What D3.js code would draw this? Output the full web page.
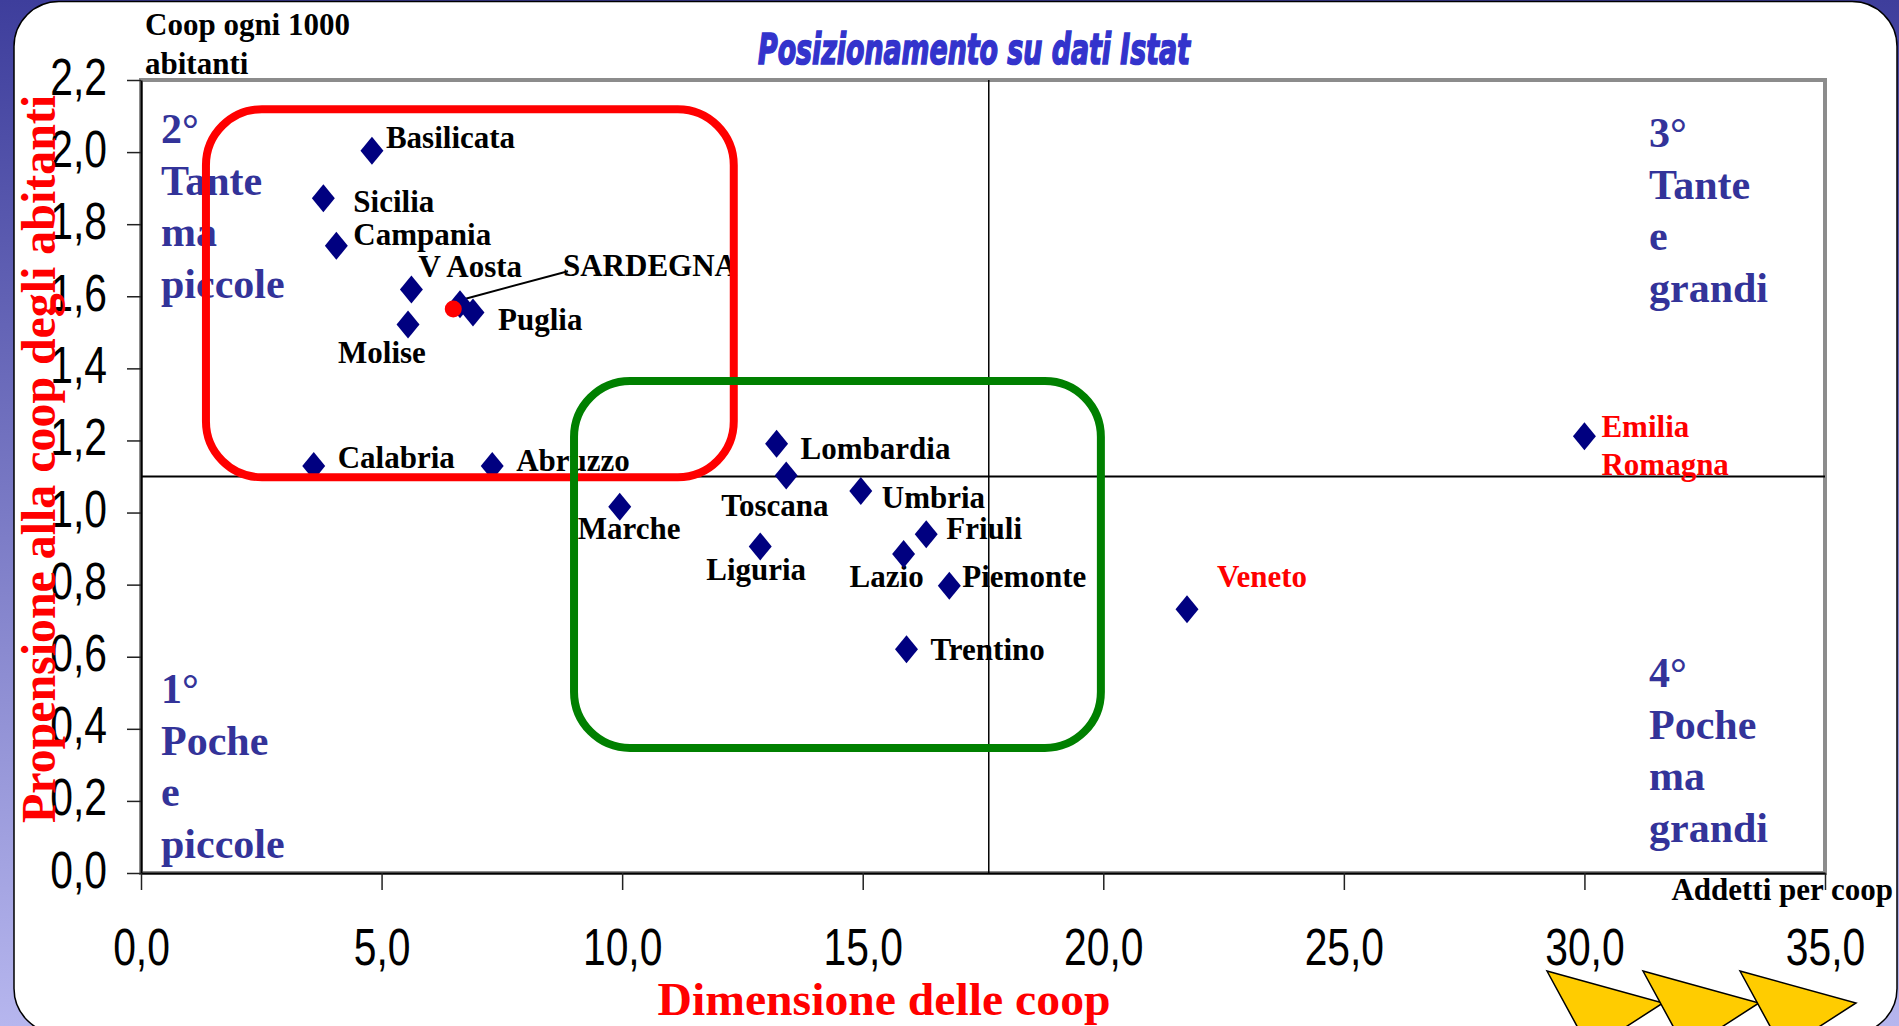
<!DOCTYPE html>
<html>
<head>
<meta charset="utf-8">
<script src="https://cdn.jsdelivr.net/npm/d3@7"></script>
<style>
  body { margin: 0; overflow: hidden; background: #fff; }
</style>
</head>
<body>
<div id="chart"></div>
<script>
// regioni: x = addetti per coop, y = coop ogni 1000 abitanti
var regions = ["Basilicata", "Sicilia", "Campania", "V Aosta", "Molise", "SARDEGNA", "Puglia",
  "Calabria", "Abruzzo", "Marche", "Lombardia", "Toscana", "Umbria", "Liguria", "Friuli",
  "Lazio", "Piemonte", "Trentino", "Veneto", "Emilia\nRomagna"];
var addetti = [4.80, 3.79, 4.06, 5.62, 5.55, 6.63, 6.90,
  3.59, 7.30, 9.95, 13.21, 13.41, 14.96, 12.87, 16.32,
  15.85, 16.80, 15.91, 21.74, 30.0];
var coopPer1000 = [2.004, 1.872, 1.740, 1.619, 1.522, 1.578, 1.555,
  1.129, 1.129, 1.016, 1.191, 1.103, 1.060, 0.906, 0.940,
  0.885, 0.797, 0.621, 0.732, 1.212];
var redLabel = ["Veneto", "Emilia\nRomagna"];
// spostamento delle etichette rispetto al punto (px)
var labelDx = [14, 30, 17, 7, -70, 103, 25, 24, 24, -42, 24, -65, 21, -54, 20, -54, 13, 24, 30, 17];
var labelDy = [-3, 14, -1, -12, 39, -28, 18, 2, 5, 32, 15, 41, 17, 34, 5, 33, 1, 11, -22, 1];

var xTicks = [0, 5, 10, 15, 20, 25, 30, 35];
var yTicks = [0, 0.2, 0.4, 0.6, 0.8, 1.0, 1.2, 1.4, 1.6, 1.8, 2.0, 2.2];
var xMean = 17.62, yMean = 1.10;
var sardegnaDot = [6.49, 1.565];

// riquadri evidenziati (in unità dei dati)
var boxColors = ["#ff0000", "#008000"];
var boxX = [[1.35, 12.32], [9.0, 19.95]];
var boxY = [[1.098, 2.119], [0.347, 1.365]];

var quadrantText = [["2°", "Tante", "ma", "piccole"], ["3°", "Tante", "e", "grandi"],
  ["1°", "Poche", "e", "piccole"], ["4°", "Poche", "ma", "grandi"]];

var W = 1899, H = 1026;
var serif = "'Liberation Serif', 'Times New Roman', serif";
var sans = "'Liberation Sans', Arial, sans-serif";

var svg = d3.select("#chart").append("svg")
  .attr("width", W).attr("height", H);

var defs = svg.append("defs");
var grad = defs.append("linearGradient").attr("id", "bg")
  .attr("x1", 0).attr("y1", 0).attr("x2", 0).attr("y2", 1);
grad.append("stop").attr("offset", "0%").attr("stop-color", "#3e3e9c");
grad.append("stop").attr("offset", "100%").attr("stop-color", "#b6b6ee");

svg.append("rect").attr("width", W).attr("height", H).attr("fill", "url(#bg)");
svg.append("rect").attr("x", 14).attr("y", 1.5).attr("width", 1883).attr("height", 1032)
  .attr("rx", 45).attr("fill", "#fff").attr("stroke", "#000").attr("stroke-width", 1.5);

var x = d3.scaleLinear().domain([0, 35]).range([141, 1825]);
var y = d3.scaleLinear().domain([0, 2.2]).range([873, 80]);

// cornice area grafico
svg.append("rect").attr("x", x(0)).attr("y", y(2.2))
  .attr("width", x(35) - x(0)).attr("height", y(0) - y(2.2))
  .attr("fill", "#fff").attr("stroke", "#8c8c8c").attr("stroke-width", 4);

var fmt = function(d) { return d3.format(".1f")(d).replace(".", ","); };

var yAxis = svg.append("g").attr("transform", "translate(" + x(0) + ",0)")
  .call(d3.axisLeft(y).tickValues(yTicks).tickSizeInner(14).tickSizeOuter(0).tickFormat(fmt));
var xAxis = svg.append("g").attr("transform", "translate(0," + y(0) + ")")
  .call(d3.axisBottom(x).tickValues(xTicks).tickSizeInner(17).tickSizeOuter(0).tickFormat(fmt));

[yAxis, xAxis].forEach(function(a) {
  a.select(".domain").attr("stroke", "#000").attr("stroke-width", 2);
  a.selectAll(".tick line").attr("stroke", "#222").attr("stroke-width", 1.5);
  a.selectAll("text").attr("x", 0).attr("y", 0).attr("dy", null)
    .attr("fill", "#000").style("font-family", sans).style("font-size", "51px");
});
yAxis.selectAll("text").attr("text-anchor", "end")
  .attr("transform", "translate(-34,14) scale(0.8,1)");
xAxis.selectAll("text").attr("text-anchor", "middle")
  .attr("transform", "translate(0,92) scale(0.8,1)");

// linee medie
svg.append("line").attr("x1", x(0)).attr("x2", x(35)).attr("y1", y(yMean)).attr("y2", y(yMean))
  .attr("stroke", "#000").attr("stroke-width", 2);
svg.append("line").attr("x1", x(xMean)).attr("x2", x(xMean)).attr("y1", y(2.2)).attr("y2", y(0))
  .attr("stroke", "#000").attr("stroke-width", 1.5);

// titoli
svg.append("text").attr("x", 974).attr("y", 64).attr("text-anchor", "middle")
  .attr("textLength", 432).attr("lengthAdjust", "spacingAndGlyphs")
  .style("font-family", "'DejaVu Sans Condensed', 'DejaVu Sans', sans-serif")
  .style("font-weight", "bold").style("font-style", "italic").style("font-size", "43px")
  .attr("fill", "#3333cc").attr("stroke", "#3333cc").attr("stroke-width", 1.6)
  .text("Posizionamento su dati Istat");

svg.append("text").attr("x", 145).attr("y", 35)
  .style("font-family", serif).style("font-weight", "bold").style("font-size", "31px")
  .text("Coop ogni 1000");
svg.append("text").attr("x", 145).attr("y", 74)
  .style("font-family", serif).style("font-weight", "bold").style("font-size", "31px")
  .text("abitanti");
svg.append("text").attr("x", 1893).attr("y", 900).attr("text-anchor", "end")
  .style("font-family", serif).style("font-weight", "bold").style("font-size", "31px")
  .text("Addetti per coop");
svg.append("text").attr("x", 884).attr("y", 1015).attr("text-anchor", "middle")
  .attr("textLength", 453).attr("lengthAdjust", "spacingAndGlyphs")
  .style("font-family", serif).style("font-weight", "bold").style("font-size", "47px")
  .attr("fill", "#ff0000").text("Dimensione delle coop");
svg.append("text").attr("transform", "translate(55,459) rotate(-90)").attr("text-anchor", "middle")
  .attr("textLength", 728).attr("lengthAdjust", "spacingAndGlyphs")
  .style("font-family", serif).style("font-weight", "bold").style("font-size", "48px")
  .attr("fill", "#ff0000").text("Propensione alla coop degli abitanti");

// etichette quadranti
var quadX = [161, 1649, 161, 1649];
var quadY = [143, 147, 703, 687];
quadrantText.forEach(function(lines, i) {
  var t = svg.append("text").attr("x", quadX[i]).attr("y", quadY[i])
    .style("font-family", serif).style("font-weight", "bold").style("font-size", "42px")
    .attr("fill", "#333399");
  lines.forEach(function(s, j) {
    t.append("tspan").attr("x", quadX[i]).attr("dy", j == 0 ? 0 : 51.5).text(s);
  });
});

// dati
var data = regions.map(function(r, i) {
  return {name: r, x: addetti[i], y: coopPer1000[i], dx: labelDx[i], dy: labelDy[i]};
});

// linea guida Sardegna
svg.append("line").attr("x1", x(addetti[5])).attr("y1", y(coopPer1000[5]) - 4)
  .attr("x2", x(addetti[5]) + 108).attr("y2", y(coopPer1000[5]) - 33)
  .attr("stroke", "#000").attr("stroke-width", 2);

data.forEach(function(d) {
  var t = svg.append("text").attr("x", x(d.x) + d.dx).attr("y", y(d.y) + d.dy)
    .style("font-family", serif).style("font-weight", "bold").style("font-size", "31px")
    .attr("fill", redLabel.indexOf(d.name) >= 0 ? "#ff0000" : "#000");
  d.name.split("\n").forEach(function(s, j) {
    t.append("tspan").attr("x", x(d.x) + d.dx).attr("dy", j == 0 ? 0 : 38).text(s);
  });
});

var diamond = d3.symbol().type(d3.symbolDiamond2).size(500);
svg.append("g").selectAll("path").data(data).enter().append("path")
  .attr("d", diamond)
  .attr("transform", function(d) { return "translate(" + x(d.x) + "," + y(d.y) + ") scale(0.82,1)"; })
  .attr("fill", "#000080");

svg.append("circle").attr("cx", x(sardegnaDot[0])).attr("cy", y(sardegnaDot[1])).attr("r", 8.5)
  .attr("fill", "#ff0000");

// riquadri
boxColors.forEach(function(c, i) {
  svg.append("rect").attr("x", x(boxX[i][0])).attr("y", y(boxY[i][1]))
    .attr("width", x(boxX[i][1]) - x(boxX[i][0])).attr("height", y(boxY[i][0]) - y(boxY[i][1]))
    .attr("rx", 56).attr("fill", "none").attr("stroke", c).attr("stroke-width", 8);
});

// frecce gialle
var arrowOffsets = [0, 96, 193];
svg.append("g").selectAll("path").data(arrowOffsets).enter().append("path")
  .attr("d", function(o) {
    return "M" + (1547 + o) + ",971L" + (1663 + o) + ",1003L" + (1590 + o) + ",1050Z";
  })
  .attr("fill", "#ffcc00").attr("stroke", "#000").attr("stroke-width", 1.5);
</script>
</body>
</html>
